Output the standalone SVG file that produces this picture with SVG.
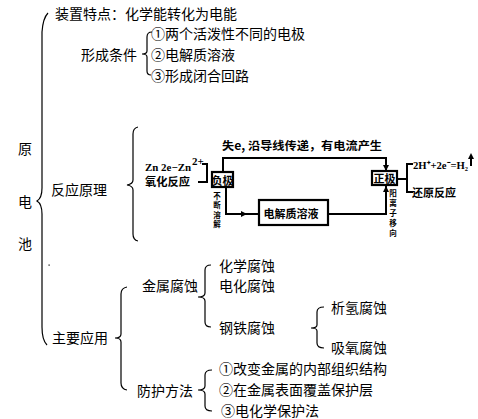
<svg xmlns="http://www.w3.org/2000/svg" width="478" height="419" viewBox="0 0 478 419">
<style>
.t{font-family:"Noto Sans CJK SC","Liberation Sans",sans-serif;font-size:14px;fill:#000;dominant-baseline:central}
.s{font-family:"Noto Sans CJK SC","Liberation Sans",sans-serif;font-size:11px;fill:#000;font-weight:bold;dominant-baseline:central}
.v{font-family:"Noto Sans CJK SC","Liberation Sans",sans-serif;font-size:7.5px;fill:#000;font-weight:bold;text-anchor:middle;dominant-baseline:central}
.f{font-family:"Liberation Serif",serif;font-size:11px;fill:#000;font-weight:bold;dominant-baseline:central}
.b{fill:none;stroke:#000;stroke-width:1.2}
.w{fill:none;stroke:#000;stroke-width:2}
.box{fill:#fff;stroke:#000;stroke-width:2.2}
</style>
<defs>
<marker id="ah" viewBox="0 0 10 10" refX="5" refY="5" markerWidth="6" markerHeight="6" orient="auto-start-reverse" markerUnits="userSpaceOnUse">
<path d="M0,0 L10,5 L0,10 z" fill="#000"/>
</marker>
</defs>
<rect width="478" height="419" fill="#fff"/>

<g id="connectors">
<path class="b" d="M48,13 Q43,18 42,32 L42,188 Q42,198 37,201 Q42,204 42,214 L42,327 Q42,340 47,345"/>
<path class="b" d="M152,32 Q147,32 147,37 L147,51 Q147,54 142,54 Q147,54 147,57 L147,71 Q147,75 151,75"/>
<path class="b" d="M138,127 Q133,128 133,134 L133,180 Q133,184 127,185 Q133,186 133,190 L133,234 Q133,240 138,241"/>
<path class="b" d="M127,287 Q121,288 121,294 L121,334 Q121,338 115,338 Q121,338 121,342 L121,383 Q121,389 127,390"/>
<path class="b" d="M211,265 Q205,265 205,270 L205,293 Q205,297 198,297 Q205,297 205,301 L205,322 Q205,327 211,327"/>
<path class="b" d="M324,307 Q317,307 317,312 L317,325 Q317,328 311,328 Q317,328 317,331 L317,343 Q317,348 324,348"/>
<path class="b" d="M212,370 Q205,370 205,375 L205,386 Q205,390 198,390 Q205,390 205,394 L205,406 Q205,411 212,411"/>

<path class="w" d="M202,164 H207 V182 H198"/>
<path class="w" d="M223,172 V158 H386 V171"/>
<path class="w" d="M386,160 V168" marker-end="url(#ah)"/>
<path class="w" d="M226,187 V214 H259"/>
<path class="w" d="M236,214 H244" marker-end="url(#ah)"/>
<path class="w" d="M328,214 H386 V186"/>
<path class="w" d="M386,196 V189" marker-end="url(#ah)"/>
<path class="w" d="M397,179 H407"/>
<path class="w" d="M413,164 H407 V192 H413"/>
<path class="w" d="M471,166 V156" marker-end="url(#ah)"/>
<rect x="48.5" y="264.5" width="1.2" height="1.2" fill="#000"/>
</g>

<g id="root"><text class="t" x="18" y="148">原</text><text class="t" x="18" y="201">电</text><text class="t" x="18" y="243">池</text></g>
<g id="feature"><text class="t" x="55" y="13">装置特点：化学能转化为电能</text></g>
<g id="conditions"><text class="t" x="81" y="54">形成条件</text></g>
<g id="cond1"><text class="t" x="151" y="33">①两个活泼性不同的电极</text></g>
<g id="cond2"><text class="t" x="151" y="54">②电解质溶液</text></g>
<g id="cond3"><text class="t" x="151" y="75">③形成闭合回路</text></g>
<g id="principle"><text class="t" x="51" y="189">反应原理</text></g>

<g id="anode-reaction">
<text class="f" x="145" y="167" textLength="46" lengthAdjust="spacingAndGlyphs">Zn  2e−Zn</text>
<text class="f" x="192" y="161" font-size="7">2+</text>
<text class="s" x="145" y="181" textLength="45" lengthAdjust="spacingAndGlyphs">氧化反应</text>
</g>
<g id="anode">
<rect class="box" x="212" y="172" width="21" height="15"/>
<text class="s" x="222.5" y="179.5" text-anchor="middle" font-size="10">负极</text>
</g>
<g id="wire-label"><text class="s" x="222" y="145" textLength="160" lengthAdjust="spacingAndGlyphs">失e, 沿导线传递，有电流产生</text></g>
<g id="cathode">
<rect class="box" x="372" y="171" width="25" height="14"/>
<text class="s" x="384.5" y="178" text-anchor="middle">正极</text>
</g>
<g id="electrolyte">
<rect class="box" x="259" y="200" width="69" height="25" stroke-width="2.6"/>
<text class="s" x="291" y="212.5" text-anchor="middle">电解质溶液</text>
</g>
<g id="dissolve"><text class="v" x="217" y="195">不</text><text class="v" x="217" y="204.5">断</text><text class="v" x="217" y="214">溶</text><text class="v" x="217" y="223.5">解</text></g>
<g id="cation"><text class="v" x="393" y="192">阳</text><text class="v" x="393" y="202">离</text><text class="v" x="393" y="212">子</text><text class="v" x="393" y="222">移</text><text class="v" x="393" y="232">向</text></g>
<g id="cathode-reaction">
<text class="f" x="413" y="165" font-size="10.5" textLength="55" lengthAdjust="spacingAndGlyphs">2H⁺+2e⁻=H₂</text>
<text class="s" x="412" y="192" font-size="12">还原反应</text>
</g>

<g id="application"><text class="t" x="52" y="337">主要应用</text></g>
<g id="corrosion"><text class="t" x="142" y="285">金属腐蚀</text></g>
<g id="chem"><text class="t" x="219" y="265">化学腐蚀</text></g>
<g id="electrochem"><text class="t" x="219" y="285">电化腐蚀</text></g>
<g id="steel"><text class="t" x="219" y="327">钢铁腐蚀</text></g>
<g id="h2"><text class="t" x="331" y="307">析氢腐蚀</text></g>
<g id="o2"><text class="t" x="331" y="347">吸氧腐蚀</text></g>
<g id="protection"><text class="t" x="137" y="390">防护方法</text></g>
<g id="p1"><text class="t" x="219" y="368">①改变金属的内部组织结构</text></g>
<g id="p2"><text class="t" x="219" y="389">②在金属表面覆盖保护层</text></g>
<g id="p3"><text class="t" x="221" y="410">③电化学保护法</text></g>
</svg>
